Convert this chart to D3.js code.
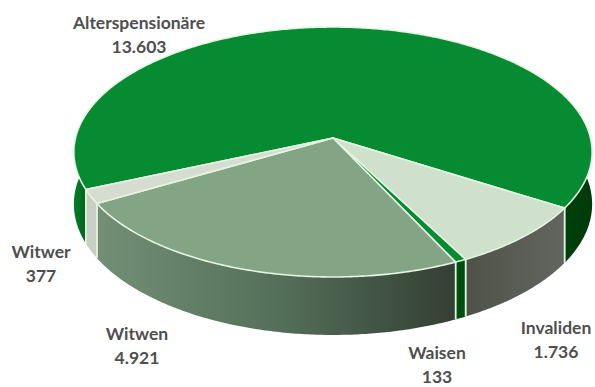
<!DOCTYPE html>
<html>
<head>
<meta charset="utf-8">
<script src="https://cdn.jsdelivr.net/npm/d3@7/dist/d3.min.js"></script>
<style>
html,body{margin:0;padding:0;background:#fff}
svg{display:block}
text{font-family:Lato,sans-serif;font-weight:700;font-size:17.5px;fill:#4f4f4f;text-anchor:middle}
</style>
</head>
<body>
<svg id="chart" width="595" height="387"></svg>
<script>
const categories = ["Alterspensionäre", "Invaliden", "Waisen", "Witwen", "Witwer"];
const values = [13603, 1736, 133, 4921, 377];
const valueLabels = ["13.603", "1.736", "133", "4.921", "377"];
const topColors = ["#068a32", "#cfe0cc", "#068a32", "#84a585", "#d6ddd0"];
const sideStops = [
  ["#00400c", "#003a08"],
  ["#4f5249", "#63665e"],
  ["#004d10", "#004d10"],
  ["#738f76", "#55705a", "#333f33"],
  ["#c8cfc4", "#c8cfc4"]
];
const labelX = [139, 556, 437, 137, 41];
const labelY = [23, 328, 352.5, 334, 252];

// Tilted-disc projection: the far rim shrinks, the near rim grows.
const cx = 333, cy = 138, A = 257.5, B = 123.4, k = 0.112, depth = 51.5;
const project = (angle, r = 1, drop = 0) => {
  const X = r * Math.sin(angle), Y = r * Math.cos(angle), w = 1 + k * Y;
  return [cx + A * X / w, cy - B * Y / w + drop / w];
};

const toRad = d3.scaleLinear().domain([0, 360]).range([0, 2 * Math.PI]);
const start = toRad(246.5);
const arcs = d3.pie().sort(null).value(d => d).startAngle(start).endAngle(start + 2 * Math.PI)(values);

const svg = d3.select("#chart");
const defs = svg.append("defs");
const line = d3.line();
const rim = "#e4f5e2";

const sample = (a0, a1) => {
  const n = Math.max(2, Math.ceil(Math.abs(a1 - a0) / 0.01));
  return d3.range(n + 1).map(i => a0 + (a1 - a0) * i / n);
};

// Only the near half of the wall is visible, up to the silhouette tangents.
const tangent = Math.acos(k);
const frontFrom = tangent, frontTo = 2 * Math.PI - tangent;
const wallRanges = a => {
  const out = [];
  for (const shift of [0, -2 * Math.PI]) {
    const s = Math.max(a.startAngle + shift, frontFrom);
    const e = Math.min(a.endAngle + shift, frontTo);
    if (e > s) out.push([s, e]);
  }
  return out;
};

arcs.forEach((a, i) => {
  const g = defs.append("linearGradient").attr("id", "side" + i);
  sideStops[i].forEach((c, j, list) =>
    g.append("stop").attr("offset", j / (list.length - 1)).attr("stop-color", c));
});
defs.append("linearGradient").attr("id", "sideLeft")
  .selectAll("stop").data(["#007f28", "#00651c"]).join("stop")
  .attr("offset", (d, j) => j).attr("stop-color", d => d);

// Walls
const walls = svg.append("g");
arcs.forEach((a, i) => {
  wallRanges(a).forEach(([s, e]) => {
    const angles = sample(s, e);
    const pts = angles.map(t => project(t))
      .concat(angles.slice().reverse().map(t => project(t, 1, depth)));
    const isLeftPiece = i === 0 && s > Math.PI;
    walls.append("path")
      .attr("d", line(pts) + "Z")
      .attr("fill", `url(#${isLeftPiece ? "sideLeft" : "side" + i})`)
      .attr("stroke", "none");
    // Pale seams at the slice boundaries
    [[s, a.startAngle], [e, a.endAngle]].forEach(([t, edge]) => {
      const same = Math.abs(t - edge) < 1e-6 || Math.abs(t + 2 * Math.PI - edge) < 1e-6;
      if (same) {
        walls.append("path")
          .attr("d", line([project(t), project(t, 1, depth)]))
          .attr("stroke", rim).attr("stroke-width", 1.6).attr("fill", "none");
      }
    });
  });
});

// Top faces
const tops = svg.append("g");
arcs.forEach((a, i) => {
  const pts = [project(0, 0)].concat(sample(a.startAngle, a.endAngle).map(t => project(t)));
  tops.append("path")
    .attr("d", line(pts) + "Z")
    .attr("fill", topColors[i])
    .attr("stroke", rim)
    .attr("stroke-width", 1.6)
    .attr("stroke-linejoin", "round");
});

// Labels
const labels = svg.append("g");
categories.forEach((c, i) => {
  const t = labels.append("text").attr("x", labelX[i]).attr("y", labelY[i] + 6);
  t.append("tspan").attr("x", labelX[i]).text(c);
  t.append("tspan").attr("x", labelX[i]).attr("dy", 24).text(valueLabels[i]);
});
</script>
</body>
</html>
